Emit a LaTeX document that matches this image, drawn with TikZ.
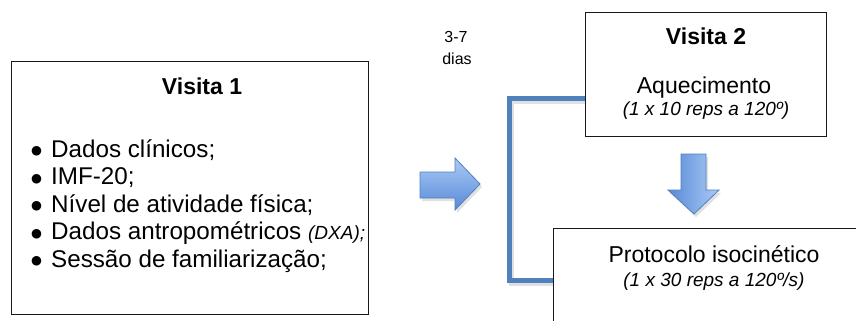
\documentclass[tikz,border=0pt]{standalone}
\usepackage{fontspec}
\setmainfont{Liberation Sans}
\newfontfamily\dejavu{DejaVu Sans}
\definecolor{ablue}{RGB}{79,129,189}
\definecolor{alight}{RGB}{170,202,246}
\definecolor{adark}{RGB}{88,138,214}
\newcommand\bulletmark{\makebox[20pt][l]{\raisebox{2.5pt}{\dejavu\fontsize{12.5}{12.5}\selectfont ●}}}
\tikzset{
  frame/.style={draw=black!90, line width=1.4pt, inner sep=0pt, fill=white},
  txt/.style={inner sep=0pt, anchor=base, font=\fontsize{23}{27}\selectfont},
  ttl/.style={inner sep=0pt, anchor=base, font=\fontsize{23}{27}\selectfont\bfseries},
  note/.style={inner sep=0pt, anchor=base, font=\fontsize{19}{23}\selectfont\itshape},
  small/.style={inner sep=0pt, anchor=base, font=\fontsize{16}{22}\selectfont},
  itemtxt/.style={inner sep=0pt, anchor=base west, font=\fontsize{24.2}{28}\selectfont},
  bracket/.style={draw=ablue, line width=5pt},
  shadowline/.style={draw=black!12, line width=5pt},
  shadowfill/.style={fill=black!12, draw=none},
  blockarrow/.style={draw=ablue, line width=0.8pt, line join=miter, top color=alight, bottom color=adark},
  blockarrowv/.style={draw=ablue, line width=0.8pt, line join=miter, left color=adark, right color=alight}
}
\begin{document}
\begin{tikzpicture}[x=1pt,y=-1pt]
\useasboundingbox (0,0) rectangle (856,321);
\clip (0,0) rectangle (856,321);
\fill[white] (0,0) rectangle (856,321);

% Visita 1 box
\node[frame, minimum width=357pt, minimum height=253pt, anchor=north west] (v1) at (11,61) {};
\node[ttl] (t1) at (202,94) {Visita 1};
\node[itemtxt] (i1) at (31,157) {\bulletmark Dados clínicos;};
\node[itemtxt] (i2) at (31,184.5) {\bulletmark IMF-20;};
\node[itemtxt] (i3) at (31,212) {\bulletmark Nível de atividade física;};
\node[itemtxt] (i4) at (31,239.5) {\bulletmark Dados antropométricos {\fontsize{19}{23}\selectfont\itshape (DXA);}};
\node[itemtxt] (i5) at (31,267) {\bulletmark Sessão de familiarização;};

% 3-7 dias
\node[small] (d1) at (456,43) {3-7};
\node[small] (d2) at (457,65) {dias};

% right arrow
\fill[shadowfill] (422,175) -- (457,175) -- (457,161) -- (482,187) -- (457,213) -- (457,201) -- (422,201) -- cycle;
\draw[blockarrow] (420,172) -- (455,172) -- (455,158) -- (480,184) -- (455,210) -- (455,198) -- (420,198) -- cycle;

% Visita 2 box
\node[frame, minimum width=241pt, minimum height=124pt, anchor=north west] (v2) at (585,12) {};
\node[ttl] (t2) at (706,45) {Visita 2};
\node[txt] (a2) at (704,93) {Aquecimento};
\node[note] (n2) at (706,115) {(1 x 10 reps a 120º)};

% down arrow
\fill[shadowfill] (683,157) -- (708,157) -- (708,193) -- (721,193) -- (696,217) -- (670,193) -- (683,193) -- cycle;
\draw[blockarrowv] (681,154) -- (706,154) -- (706,190) -- (719,190) -- (694,214) -- (668,190) -- (681,190) -- cycle;

% Protocolo box
\node[frame, minimum width=322pt, minimum height=115pt, anchor=north west] (v3) at (553,228) {};
\node[txt] (p3) at (714,262) {Protocolo isocinético};
\node[note] (n3) at (714,286) {(1 x 30 reps a 120º/s)};

% bracket
\coordinate (bk1) at (509,98);
\coordinate (bk2) at (509,280);
\draw[shadowline] ([shift={(0,3)}]v2.west |- bk1) -- ([shift={(2,3)}]bk1) -- ([shift={(2,3)}]bk2) -- ([shift={(0,3)}]v3.west |- bk2);
\draw[bracket] (v2.west |- bk1) -- (bk1) -- (bk2) -- (v3.west |- bk2);
\end{tikzpicture}
\end{document}
